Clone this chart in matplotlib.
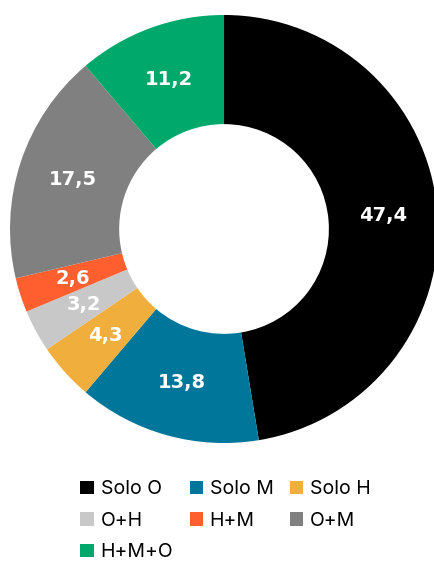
import matplotlib.pyplot as plt
from matplotlib.patches import Patch

categories = ['Solo O', 'Solo M', 'Solo H', 'O+H', 'H+M', 'O+M', 'H+M+O']
values = [47.4, 13.8, 4.3, 3.2, 2.6, 17.5, 11.2]
colours = ['#000000', '#00779a', '#f0ae3c', '#c8c8c8', '#ff5f2e', '#808080', '#00a86b']

fig = plt.figure(figsize=(4.35, 5.61), dpi=100)
ax = fig.add_axes([0.023, 0.2103, 0.984, 0.763])

wedges, texts = ax.pie(values, colors=colours, startangle=90, counterclock=False,
                       radius=1, wedgeprops=dict(width=0.51, linewidth=0),
                       labels=[f'{v:.1f}'.replace('.', ',') for v in values],
                       labeldistance=0.745)
for t in texts:
    t.set_ha('center')
    t.set_va('center')
    t.set_color('white')
    t.set_fontsize(14)
    t.set_fontweight('bold')
    t.set_family('DejaVu Sans')
ax.set_xlim(-1, 1)
ax.set_ylim(-1, 1)
ax.set_aspect('equal')

# legend is filled column by column, so reorder to read row-wise
order = [0, 3, 6, 1, 4, 2, 5]
handles = [Patch(facecolor=colours[i], edgecolor='none') for i in order]
labels = [categories[i] for i in order]
fig.legend(handles, labels, ncol=3, loc='upper left', bbox_to_anchor=(0.185, 0.144),
           frameon=False, prop={'family': 'Inter', 'size': 14},
           handlelength=0.68, handleheight=0.68, handletextpad=0.35,
           columnspacing=0.85, labelspacing=0.7, borderaxespad=0, borderpad=0)

fig.savefig('out.png', dpi=100)
